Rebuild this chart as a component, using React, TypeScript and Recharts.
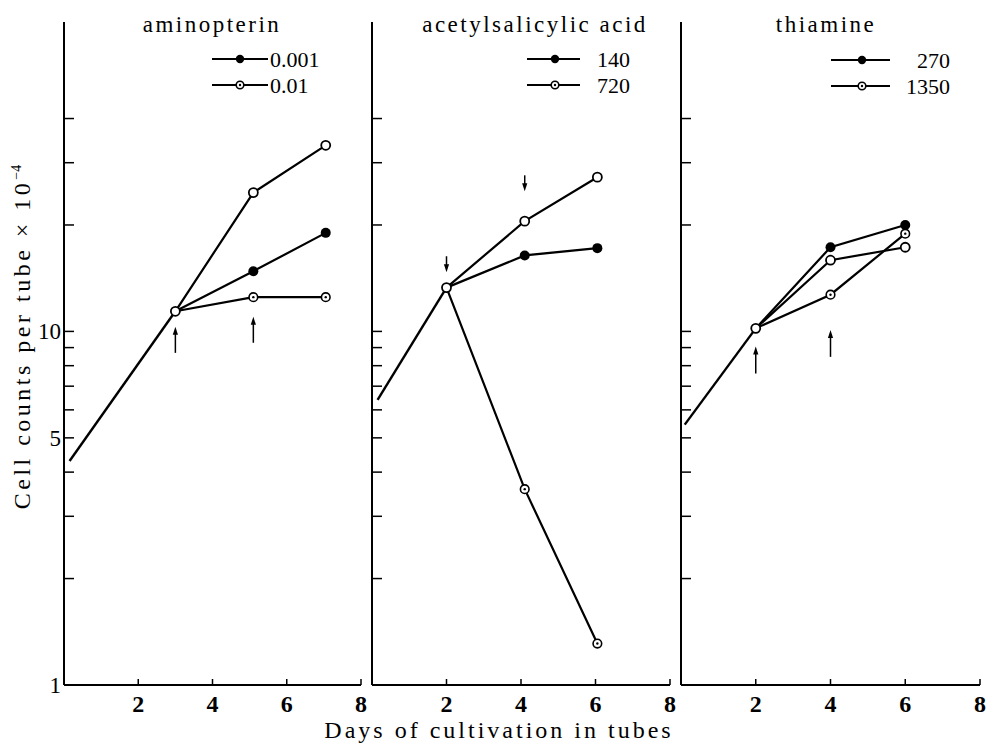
import React from "react";
import { LineChart, Line, XAxis, YAxis, ReferenceDot, Legend } from "recharts";

const Y_TICKS = [1, 2, 3, 4, 5, 6, 7, 8, 9, 10, 20, 30, 40];
const Y_LABELED = [1, 5, 10];
const X_TICKS = [2, 4, 6, 8];

// aminopterin
const aminoBaseDays = [0.15, 3];
const aminoBase = [4.3, 11.4];
const aminoDays = [3, 5.1, 7.05];
const aminoControl = [11.4, 24.7, 33.6];
const aminoLow = [11.4, 14.8, 19.0];
const aminoHigh = [11.4, 12.5, 12.5];
const aminoDoses = ["0.001", "0.01"];
const aminoArrowDays = [3, 5.1];
const aminoArrowTips = [10.3, 11.0];

// acetylsalicylic acid
const asaBaseDays = [0.15, 2];
const asaBase = [6.4, 13.3];
const asaDays = [2, 4.1, 6.05];
const asaControl = [13.3, 20.5, 27.3];
const asaLow = [13.3, 16.4, 17.2];
const asaHigh = [13.3, 3.58, 1.31];
const asaDoses = ["140", "720"];
const asaArrowDays = [2, 4.1];
const asaArrowTips = [14.7, 24.9];

// thiamine
const thiaBaseDays = [0.1, 2];
const thiaBase = [5.45, 10.2];
const thiaDays = [2, 4, 6];
const thiaControl = [10.2, 15.9, 17.3];
const thiaLow = [10.2, 17.3, 20.0];
const thiaHigh = [10.2, 12.7, 18.9];
const thiaDoses = ["270", "1350"];
const thiaArrowDays = [2, 4];
const thiaArrowTips = [9.07, 10.1];

const FONT = "'Liberation Serif', 'Times New Roman', serif";
const YW = 40;
const PLOT_TOP = 22;
const PLOT_H = 663;
const XH = 40;

const zip = (xs: number[], ys: number[]) => xs.map((x, i) => ({ x, y: ys[i] }));

function OpenDot({ cx, cy }: any) {
  return <circle cx={cx} cy={cy} r={4.5} fill="#fff" stroke="#000" strokeWidth={1.8} />;
}
function FilledDot({ cx, cy, r = 5 }: any) {
  return <circle cx={cx} cy={cy} r={r} fill="#000" />;
}
function DottedDot({ cx, cy, r = 4.3 }: any) {
  return (
    <g>
      <circle cx={cx} cy={cy} r={r} fill="#fff" stroke="#000" strokeWidth={1.6} />
      <circle cx={cx} cy={cy} r={1.2} fill="#000" />
    </g>
  );
}

function Arrow({ cx, cy, dir, len }: any) {
  if (cx == null || cy == null) return null;
  const s = dir === "up" ? 1 : -1;
  return (
    <g>
      <line x1={cx} x2={cx} y1={cy + s * 5} y2={cy + s * len} stroke="#000" strokeWidth={1.5} />
      <path d={`M${cx},${cy} L${cx - 2.6},${cy + s * 8} L${cx + 2.6},${cy + s * 8} Z`} fill="#000" />
    </g>
  );
}

function YTick({ x, y, payload, showLabels }: any) {
  const v = payload.value;
  return (
    <g>
      <line x1={x} x2={x + 10} y1={y} y2={y} stroke="#000" strokeWidth={1.5} />
      {showLabels && Y_LABELED.includes(v) && (
        <text x={x - 3} y={y} dy={8} textAnchor="end" fontFamily={FONT} fontSize={23} fill="#000">
          {v}
        </text>
      )}
    </g>
  );
}

function XTick({ x, y, payload }: any) {
  return (
    <g>
      <line x1={x} x2={x} y1={y} y2={y - 6} stroke="#000" strokeWidth={1.5} />
      <text x={x} y={y + 27} textAnchor="middle" fontFamily={FONT} fontSize={24} fontWeight="bold" fill="#000">
        {payload.value}
      </text>
    </g>
  );
}

interface PanelProps {
  title: string;
  titleX: number;
  baseDays: number[];
  base: number[];
  days: number[];
  control: number[];
  low: number[];
  high: number[];
  doses: string[];
  arrowDays: number[];
  arrowTips: number[];
  arrowDir: "up" | "down";
  arrowLen: number;
  plotLeft: number;
  plotW: number;
  showYLabels?: boolean;
  leg: { x1: number; x2: number; mx: number; tx: number; anchor: string; rows: number[] };
}

function Panel(p: PanelProps) {
  const chartLeft = p.plotLeft - YW;
  const chartW = YW + p.plotW + 12;
  const chartH = PLOT_TOP + PLOT_H + XH;
  const L = (v: number) => v - chartLeft;

  const legendContent = () => (
    <svg width={chartW} height={110} style={{ overflow: "visible" }}>
      <text x={L(p.titleX)} y={32} textAnchor="middle" fontFamily={FONT} fontSize={23} letterSpacing={2.5} fill="#000">
        {p.title}
      </text>
      {p.doses.map((d, i) => (
        <g key={d}>
          <line x1={L(p.leg.x1)} x2={L(p.leg.x2)} y1={p.leg.rows[i]} y2={p.leg.rows[i]} stroke="#000" strokeWidth={2} />
          {i === 0 ? (
            <FilledDot cx={L(p.leg.mx)} cy={p.leg.rows[i]} r={4.2} />
          ) : (
            <DottedDot cx={L(p.leg.mx)} cy={p.leg.rows[i]} r={3.8} />
          )}
          <text
            x={L(p.leg.tx)}
            y={p.leg.rows[i] + 8}
            textAnchor={p.leg.anchor as any}
            fontFamily={FONT}
            fontSize={22}
            fill="#000"
          >
            {d}
          </text>
        </g>
      ))}
    </svg>
  );

  return (
    <div style={{ position: "absolute", left: chartLeft, top: 0 }}>
      <LineChart width={chartW} height={chartH} margin={{ top: PLOT_TOP, right: 12, bottom: 0, left: 0 }}>
        <XAxis
          type="number"
          dataKey="x"
          domain={[0, 8]}
          ticks={X_TICKS}
          interval={0}
          allowDataOverflow
          height={XH}
          tickSize={0}
          tickMargin={0}
          tickLine={false}
          axisLine={{ stroke: "#000", strokeWidth: 2 }}
          tick={(t: any) => <XTick {...t} />}
        />
        <YAxis
          type="number"
          dataKey="y"
          scale="log"
          domain={[1, 75]}
          ticks={Y_TICKS}
          interval={0}
          allowDataOverflow
          width={YW}
          tickSize={0}
          tickMargin={0}
          tickLine={false}
          axisLine={{ stroke: "#000", strokeWidth: 2 }}
          tick={(t: any) => <YTick {...t} showLabels={p.showYLabels} />}
        />
        <Legend
          layout="horizontal"
          verticalAlign="middle"
          align="center"
          content={legendContent}
          wrapperStyle={{ left: 0, top: 0, width: chartW, height: 110 }}
        />
        <Line
          data={zip(p.baseDays, p.base)}
          dataKey="y"
          stroke="#000"
          strokeWidth={2.4}
          dot={false}
          legendType="none"
          isAnimationActive={false}
        />
        <Line
          data={zip(p.days, p.low)}
          dataKey="y"
          name={p.doses[0]}
          stroke="#000"
          strokeWidth={2.2}
          dot={(d: any) => (d.index === 0 ? <g key={`l${d.index}`} /> : <FilledDot key={`l${d.index}`} cx={d.cx} cy={d.cy} />)}
          isAnimationActive={false}
        />
        <Line
          data={zip(p.days, p.high)}
          dataKey="y"
          name={p.doses[1]}
          stroke="#000"
          strokeWidth={2.2}
          dot={(d: any) => (d.index === 0 ? <g key={`h${d.index}`} /> : <DottedDot key={`h${d.index}`} cx={d.cx} cy={d.cy} />)}
          isAnimationActive={false}
        />
        <Line
          data={zip(p.days, p.control)}
          dataKey="y"
          stroke="#000"
          strokeWidth={2.2}
          legendType="none"
          dot={(d: any) => <OpenDot key={`c${d.index}`} cx={d.cx} cy={d.cy} />}
          isAnimationActive={false}
        />
        {p.arrowDays.map((ad, i) => (
          <ReferenceDot
            key={`a${i}`}
            x={ad}
            y={p.arrowTips[i]}
            r={0}
            ifOverflow="visible"
            shape={(s: any) => <Arrow cx={s.cx} cy={s.cy} dir={p.arrowDir} len={p.arrowLen} />}
          />
        ))}
      </LineChart>
    </div>
  );
}

export default function App() {
  return (
    <div style={{ position: "absolute", left: 0, top: 0, width: 989, height: 745, background: "#fff", overflow: "hidden" }}>
      <svg width={989} height={745} style={{ position: "absolute", left: 0, top: 0 }}>
        <text
          transform="translate(30, 337) rotate(-90)"
          textAnchor="middle"
          fontFamily={FONT}
          fontSize={24}
          letterSpacing={3.5}
          fill="#000"
        >
          Cell counts per tube × 10
          <tspan dy={-9} fontSize={14} letterSpacing={0}>−4</tspan>
        </text>
        <text x={499} y={738} textAnchor="middle" fontFamily={FONT} fontSize={24} letterSpacing={3} fill="#000">
          Days of cultivation in tubes
        </text>
      </svg>
      <Panel
        title="aminopterin"
        titleX={212}
        baseDays={aminoBaseDays}
        base={aminoBase}
        days={aminoDays}
        control={aminoControl}
        low={aminoLow}
        high={aminoHigh}
        doses={aminoDoses}
        arrowDays={aminoArrowDays}
        arrowTips={aminoArrowTips}
        arrowDir="up"
        arrowLen={26}
        plotLeft={64}
        plotW={297}
        showYLabels
        leg={{ x1: 212, x2: 268, mx: 240, tx: 270, anchor: "start", rows: [59, 85] }}
      />
      <Panel
        title="acetylsalicylic acid"
        titleX={535}
        baseDays={asaBaseDays}
        base={asaBase}
        days={asaDays}
        control={asaControl}
        low={asaLow}
        high={asaHigh}
        doses={asaDoses}
        arrowDays={asaArrowDays}
        arrowTips={asaArrowTips}
        arrowDir="down"
        arrowLen={16}
        plotLeft={372}
        plotW={298}
        leg={{ x1: 527, x2: 580, mx: 555, tx: 597, anchor: "start", rows: [59, 85] }}
      />
      <Panel
        title="thiamine"
        titleX={826}
        baseDays={thiaBaseDays}
        base={thiaBase}
        days={thiaDays}
        control={thiaControl}
        low={thiaLow}
        high={thiaHigh}
        doses={thiaDoses}
        arrowDays={thiaArrowDays}
        arrowTips={thiaArrowTips}
        arrowDir="up"
        arrowLen={27}
        plotLeft={681}
        plotW={299}
        leg={{ x1: 831, x2: 890, mx: 862, tx: 950, anchor: "end", rows: [60, 86] }}
      />
    </div>
  );
}
